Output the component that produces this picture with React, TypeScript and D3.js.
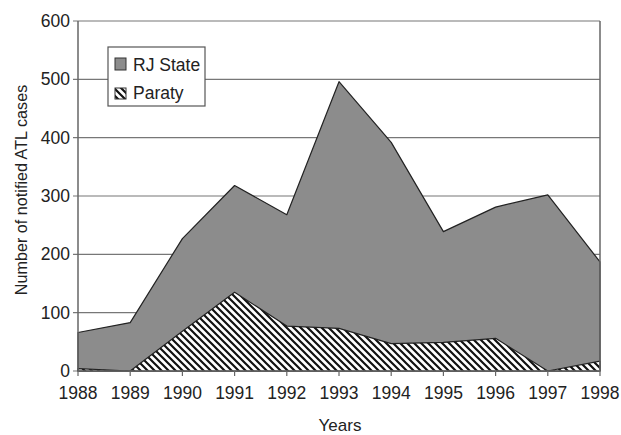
import React from 'react';
import * as d3 from 'd3';

const years = [1988, 1989, 1990, 1991, 1992, 1993, 1994, 1995, 1996, 1997, 1998];
const rjState = [66, 83, 227, 318, 268, 496, 392, 239, 281, 302, 187];
const paraty = [4, 0, 68, 135, 77, 73, 47, 49, 56, 0, 17];
const yTicks = [0, 100, 200, 300, 400, 500, 600];

const font = '"Liberation Sans", Arial, sans-serif';
const textColor = '#222';

const App = () => {
    const width = 621;
    const height = 435;
    const margin = { top: 21, right: 21, bottom: 64, left: 78 };
    const plotW = width - margin.left - margin.right;
    const plotH = height - margin.top - margin.bottom;

    const x = d3.scaleLinear().domain([1988, 1998]).range([0, plotW]);
    const y = d3.scaleLinear().domain([0, 600]).range([plotH, 0]);

    const area = d3.area<number>()
        .x((_, i) => x(years[i]))
        .y0(y(0))
        .y1(d => y(d));

    return (
        <svg width={width} height={height} style={{ position: 'absolute', left: 0, top: 0, background: '#fff' }}>
            <defs>
                <pattern id="hatch" width="7" height="7" patternUnits="userSpaceOnUse">
                    <rect width="7" height="7" fill="#fff" />
                    <path d="M-1,-1 L8,8 M-4.5,2.5 L1.5,8.5 M2.5,-4.5 L8.5,1.5" stroke="#111" strokeWidth="2.2" />
                </pattern>
            </defs>
            <g transform={`translate(${margin.left},${margin.top})`}>
                {/* gridlines */}
                {yTicks.map(t => (
                    <g key={t}>
                        <line x1={-5} x2={plotW} y1={y(t)} y2={y(t)} stroke="#777" strokeWidth={1.2} />
                        <text x={-8} y={y(t)} dy="0.35em" textAnchor="end" fontFamily={font} fontSize={17.5} fill={textColor}>{t}</text>
                    </g>
                ))}
                <path d={area(rjState) ?? ''} fill="#8c8c8c" stroke="#222" strokeWidth={1.2} strokeLinejoin="round" />
                <path d={area(paraty) ?? ''} fill="url(#hatch)" stroke="#222" strokeWidth={1.2} strokeLinejoin="round" />
                {/* frame */}
                <line x1={0} x2={0} y1={0} y2={plotH} stroke="#666" strokeWidth={1.5} />
                <line x1={plotW} x2={plotW} y1={0} y2={plotH} stroke="#666" strokeWidth={1.5} />
                <line x1={0} x2={plotW} y1={plotH} y2={plotH} stroke="#666" strokeWidth={1.5} />
                {years.map(yr => (
                    <g key={yr} transform={`translate(${x(yr)},${plotH})`}>
                        <line y1={0} y2={5} stroke="#666" strokeWidth={1.2} />
                        <text y={28} textAnchor="middle" fontFamily={font} fontSize={17.5} fill={textColor}>{yr}</text>
                    </g>
                ))}
                {/* legend */}
                <g transform="translate(30,26)">
                    <rect width={97} height={59} fill="#fff" stroke="#555" strokeWidth={1.2} />
                    <rect x={7} y={11} width={11} height={12} fill="#8c8c8c" stroke="#333" />
                    <text x={25} y={24} fontFamily={font} fontSize={17.5} fill={textColor}>RJ State</text>
                    <rect x={7} y={41} width={11} height={11} fill="url(#hatch)" stroke="#333" />
                    <text x={25} y={52} fontFamily={font} fontSize={17.5} fill={textColor}>Paraty</text>
                </g>
            </g>
            <text x={340} y={431} textAnchor="middle" fontFamily={font} fontSize={17} fill={textColor}>Years</text>
            <text transform="translate(27,190) rotate(-90)" textAnchor="middle" fontFamily={font} fontSize={16.2} fill={textColor}>Number of notified ATL cases</text>
        </svg>
    );
};

export default App;
